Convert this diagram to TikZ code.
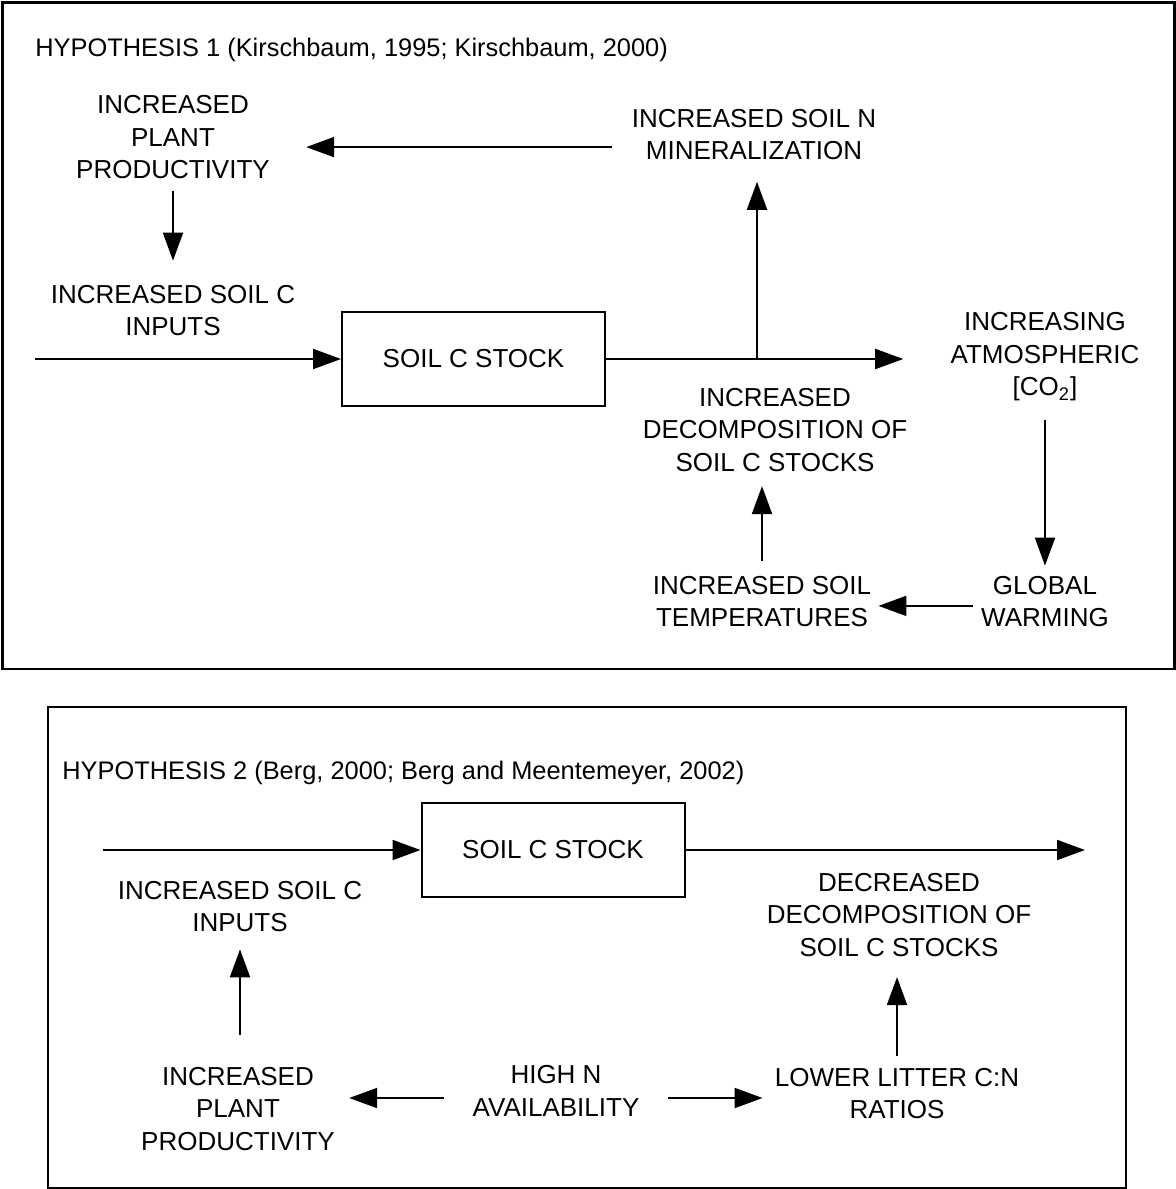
\documentclass[tikz,border=0pt]{standalone}
\usepackage{fontspec}
\setmainfont{Liberation Sans}
\usetikzlibrary{arrows.meta}

\begin{document}
\begin{tikzpicture}[x=0.5pt, y=-0.5pt,
  every node/.style = {font=\fontsize{13}{16.25}\selectfont, inner sep=0pt, align=center},
  title/.style = {anchor=base west, font=\fontsize{12.7}{15}\selectfont},
  stock/.style = {draw, line width=1pt, minimum width=131.5pt, minimum height=47pt},
  panel/.style = {draw, line width=1.2pt},
  arr/.style = {line width=1pt, -{Triangle[length=14pt, width=10pt]}},
  ]
  \useasboundingbox (0,0) rectangle (1176,1189);

  % hypothesis 1
  \draw[panel] (2.5,2.5) rectangle (1174.5,669);
  \node[title] (title1) at (35,56) {HYPOTHESIS 1 (Kirschbaum, 1995; Kirschbaum, 2000)};
  \node (prod1) at (173,137.5) {INCREASED\\PLANT\\PRODUCTIVITY};
  \node (minz) at (754,134.3) {INCREASED SOIL N\\MINERALIZATION};
  \node (inputs1) at (173,310.5) {INCREASED SOIL C\\INPUTS};
  \node[stock] (box1) at (473.5,359) {SOIL C STOCK};
  \node (atm) at (1045,357) {INCREASING\\ATMOSPHERIC\\{[CO\textsubscript{2}]}};
  \node (decomp) at (775,430) {INCREASED\\DECOMPOSITION OF\\SOIL C STOCKS};
  \node (temps) at (762,601.5) {INCREASED SOIL\\TEMPERATURES};
  \node (warm) at (1045,601.5) {GLOBAL\\WARMING};
  \coordinate (in1) at (35,359);
  \coordinate (br) at (757,359);

  \draw[arr, shorten <=10pt, shorten >=18pt] ([yshift=-6.4pt]minz.west) -- ([yshift=-6.4pt]minz.west -| prod1.east);
  \draw[arr, shorten <=5.5pt, shorten >=12pt] (prod1.south) -- (prod1.south |- inputs1.north);
  \draw[arr] (in1) -- (box1.west);
  \draw[arr, shorten >=23.5pt] (box1.east) -- (box1.east -| atm.west);
  \draw[arr, shorten >=10.8pt] (br) -- (br |- minz.south);
  \draw[arr, shorten <=9pt, shorten >=5pt] (atm.south) -- (atm.south |- warm.north);
  \draw[arr, shorten <=4pt, shorten >=3.5pt] ([yshift=-2.2pt]warm.west) -- ([yshift=-2.2pt]warm.west -| temps.east);
  \draw[arr, shorten <=7.5pt, shorten >=7pt] (temps.north) -- (temps.north |- decomp.south);

  % hypothesis 2
  \draw[panel] (48,707) rectangle (1126,1188);
  \node[title] (title2) at (62,779) {HYPOTHESIS 2 (Berg, 2000; Berg and Meentemeyer, 2002)};
  \node[stock] (box2) at (553,850) {SOIL C STOCK};
  \node (inputs2) at (240,906.5) {INCREASED SOIL C\\INPUTS};
  \node (decr) at (899,915) {DECREASED\\DECOMPOSITION OF\\SOIL C STOCKS};
  \node (prod2) at (238,1109) {INCREASED\\PLANT\\PRODUCTIVITY};
  \node (highN) at (556,1091) {HIGH N\\AVAILABILITY};
  \node (litter) at (897,1093.5) {LOWER LITTER C:N\\RATIOS};
  \coordinate (in2) at (103,850);
  \coordinate (out2) at (1085,850);

  \draw[arr] (in2) -- (box2.west);
  \draw[arr] (box2.east) -- (out2);
  \draw[arr, shorten <=16pt, shorten >=8.5pt] (prod2.north -| inputs2) -- (inputs2.south);
  \draw[arr, shorten <=6pt, shorten >=10pt] (litter.north) -- (litter.north |- decr.south);
  \draw[arr, shorten <=14pt, shorten >=7pt] ([yshift=-3.5pt]highN.west) -- ([yshift=-3.5pt]highN.west -| prod2.east);
  \draw[arr, shorten <=14pt, shorten >=6pt] ([yshift=-3.5pt]highN.east) -- ([yshift=-3.5pt]highN.east -| litter.west);
\end{tikzpicture}
\end{document}
